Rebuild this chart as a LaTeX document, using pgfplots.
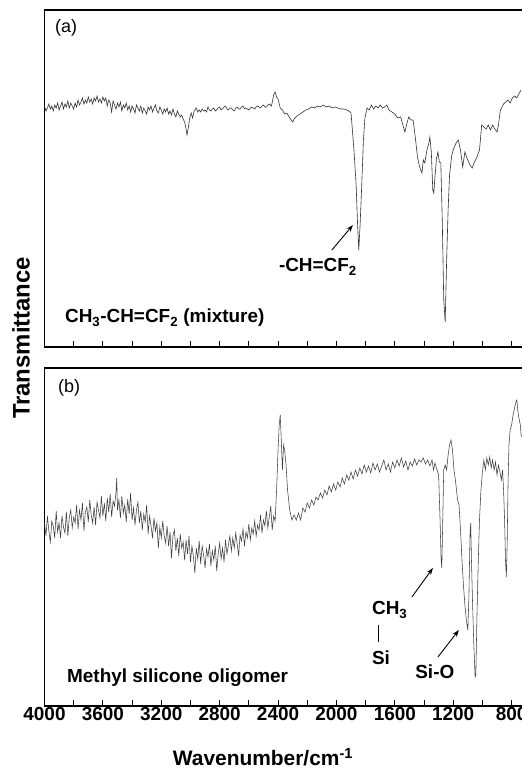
\documentclass[border=0pt]{standalone}
\usepackage{pgfplots}
\pgfplotsset{compat=1.18}
\usepackage{fontspec}
\setmainfont{Liberation Sans}
\usetikzlibrary{arrows.meta}
\tikzset{
  ann/.style={font=\bfseries\fontsize{19}{19}\selectfont, inner sep=0pt},
  arr/.style={-{Stealth[length=7bp,width=5bp]}, line width=0.9bp},
}
\pgfplotsset{
  spec/.style={
    scale only axis, width=489bp,
    xmin=650, xmax=4000, x dir=reverse,
    ytick=\empty,
    xtick={800,1200,...,4000},
    minor xtick={1000,1400,...,3800},
    tick align=inside,
    xtick pos=bottom,
    major tick length=6bp, minor tick length=6bp,
    tick style={black, line width=0.9bp},
    axis line style={line width=1.3bp},
    /pgf/number format/assume math mode=true,
    /pgf/number format/set thousands separator={},
    xticklabel style={font=\bfseries\fontsize{19}{19}\selectfont, inner sep=1bp},
  },
}
\begin{document}
\begin{tikzpicture}
\useasboundingbox (0bp,0bp) rectangle (522bp,773bp);
% ---------------- panel (a)
\begin{axis}[spec, height=337bp, ymin=0, ymax=337, at={(44.5bp,426bp)}, anchor=south west,
  xticklabels={},
  ylabel={Transmittance},
  ylabel style={at={(axis description cs:-0.048,0.027)}, anchor=center, font=\bfseries\fontsize{24}{24}\selectfont}]
\addplot[black!80, line width=0.6bp] coordinates {
(4000,241)(3990,236)(3980,239)(3970,243)(3960,238)(3950,241)(3940,236)(3930,242)(3920,239)(3910,244)
(3900,237)(3890,241)(3880,245)(3870,238)(3860,243)(3850,240)(3840,246)(3830,239)(3820,244)(3810,241)
(3800,238)(3790,244)(3780,240)(3770,247)(3760,242)(3750,245)(3740,249)(3730,243)(3720,247)(3710,244)
(3700,250)(3690,245)(3680,248)(3670,243)(3660,249)(3650,246)(3640,251)(3630,245)(3620,248)(3610,244)
(3600,250)(3590,246)(3580,249)(3570,241)(3560,247)(3550,244)(3540,235)(3530,246)(3520,242)(3510,238)
(3500,244)(3490,240)(3480,245)(3470,236)(3460,242)(3450,239)(3440,244)(3430,237)(3420,241)(3410,235)
(3400,241)(3390,238)(3380,234)(3370,242)(3360,239)(3350,236)(3340,241)(3330,234)(3320,239)(3310,236)
(3300,233)(3290,240)(3280,237)(3270,241)(3260,235)(3250,239)(3240,242)(3230,236)(3220,234)(3210,240)
(3200,237)(3190,233)(3180,238)(3170,235)(3160,239)(3150,233)(3140,236)(3130,232)(3120,238)(3110,233)
(3100,230)(3090,236)(3080,233)(3070,230)(3060,232)(3050,228)(3040,225)(3030,218)(3024,212)(3015,219)
(3005,229)(2995,234)(2985,229)(2975,236)(2960,239)(2950,235)(2940,237)(2930,235)(2920,238)(2910,236)
(2900,237)(2890,235)(2880,240)(2870,237)(2860,236)(2850,238)(2840,239)(2830,236)(2820,237)(2810,239)
(2800,240)(2790,237)(2780,238)(2770,240)(2760,241)(2750,238)(2740,237)(2730,239)(2720,239)(2710,237)
(2700,236)(2690,239)(2680,240)(2670,238)(2660,238)(2650,240)(2640,241)(2630,238)(2620,239)(2610,238)
(2600,237)(2590,239)(2580,240)(2570,239)(2560,238)(2550,240)(2540,241)(2530,240)(2520,239)(2510,241)
(2500,242)(2490,240)(2480,240)(2470,242)(2460,243)(2445,241)
(2430,252)(2420,255)(2410,250)(2400,248)(2385,239)(2370,237)(2355,233)(2340,234)(2320,229)(2300,225)
(2285,229)(2270,231)(2250,233)(2230,235)(2210,237)(2190,238)(2170,240)(2150,239)(2130,241)(2110,240)
(2090,242)(2070,240)(2050,241)(2030,239)(2010,240)(1990,239)(1970,238)(1950,238)(1930,237)(1915,236)
(1900,234)(1880,197)(1865,162)(1855,122)(1847,97)(1838,122)(1828,157)(1815,207)(1805,229)(1790,239)
(1775,237)(1760,242)(1745,238)(1730,241)(1715,239)(1700,242)(1685,239)(1670,240)(1655,242)(1640,237)
(1620,235)(1600,233)(1580,229)(1560,230)(1545,222)(1531,215)(1520,222)(1505,230)(1490,227)(1475,227)
(1460,210)(1445,190)(1430,180)(1414,174)(1405,187)(1395,184)(1380,197)(1365,205)(1360,210)(1350,195)
(1340,157)(1333,154)(1325,170)(1315,188)(1305,195)(1295,185)(1285,184)(1275,127)(1265,47)(1255,25)
(1245,87)(1235,137)(1225,172)(1210,192)(1195,199)(1180,204)(1165,207)(1150,197)(1135,180)(1120,195)
(1100,187)(1085,182)(1070,179)(1055,185)(1040,189)(1020,197)(1005,222)(990,220)(975,218)(960,222)
(945,217)(930,222)(915,218)(900,215)(890,222)(878,236)(866,240)(855,243)(840,245)(825,247)
(810,244)(795,249)(780,251)(765,249)(750,253)(743,255)(735,257)
};
\node[anchor=west, font=\fontsize{18}{18}\selectfont, inner sep=0pt] at (axis cs:3928,319) {(a)};
\node[ann] at (axis cs:2127,80) {-CH=CF\textsubscript{2}};
\draw[arr] (axis cs:2031,97) -- (axis cs:1887,122);
\node[ann, anchor=west] at (axis cs:3860,29) {CH\textsubscript{3}-CH=CF\textsubscript{2} (mixture)};
\end{axis}
% ---------------- panel (b)
\begin{axis}[spec, height=338bp, ymin=0, ymax=338, at={(44.5bp,67bp)}, anchor=south west,
  xlabel={Wavenumber/cm\textsuperscript{-1}},
  xlabel style={at={(axis description cs:0.4468,0)}, anchor=center, yshift=-51bp, font=\bfseries\fontsize{21}{21}\selectfont}]
\addplot[black!75, line width=0.55bp] coordinates {
(4000,183)(3990,170)(3980,190)(3970,175)(3960,164)(3950,185)(3940,180)(3930,168)(3920,195)(3910,174)
(3900,183)(3890,168)(3880,190)(3870,179)(3860,173)(3850,194)(3840,170)(3830,189)(3820,196)(3810,178)
(3800,189)(3790,183)(3780,201)(3770,177)(3760,196)(3750,186)(3740,203)(3730,175)(3720,194)(3710,199)
(3700,184)(3690,206)(3680,191)(3670,183)(3660,199)(3650,181)(3640,204)(3630,196)(3620,188)(3610,210)
(3600,190)(3590,203)(3580,185)(3570,208)(3560,194)(3550,212)(3540,189)(3530,205)(3520,200)(3510,214)
(3505,228)(3500,196)(3490,206)(3480,188)(3470,210)(3460,193)(3450,201)(3440,184)(3430,207)(3420,192)
(3410,213)(3400,186)(3390,198)(3380,181)(3370,196)(3360,204)(3350,183)(3340,195)(3330,176)(3320,192)
(3310,184)(3300,201)(3290,172)(3280,190)(3270,180)(3260,168)(3250,188)(3240,175)(3230,183)(3220,158)
(3210,179)(3200,168)(3190,185)(3180,170)(3170,163)(3160,180)(3150,160)(3140,174)(3130,148)(3120,170)
(3110,176)(3100,155)(3090,168)(3080,150)(3070,172)(3060,158)(3050,164)(3040,146)(3030,166)(3020,152)
(3010,170)(3000,144)(2990,160)(2980,150)(2970,133)(2960,158)(2950,147)(2940,165)(2930,142)(2920,160)
(2910,151)(2900,138)(2890,157)(2880,149)(2870,162)(2860,140)(2850,155)(2840,146)(2830,160)(2820,135)
(2810,152)(2800,163)(2790,147)(2780,158)(2770,144)(2760,166)(2750,152)(2740,161)(2730,170)(2720,155)
(2710,168)(2700,158)(2690,173)(2680,162)(2670,150)(2660,171)(2650,165)(2640,177)(2630,160)(2620,174)
(2610,168)(2600,182)(2590,166)(2580,178)(2570,172)(2560,185)(2550,170)(2540,181)(2530,176)(2520,191)
(2510,173)(2500,186)(2490,180)(2480,195)(2470,178)(2460,189)(2450,200)(2440,176)(2430,190)(2420,185)
(2410,216)(2400,256)(2392,281)
(2385,291)(2378,266)(2370,236)(2362,261)(2355,256)(2345,241)(2335,216)(2320,196)(2305,186)(2290,191)
(2275,186)(2260,193)(2245,186)(2230,198)(2215,194)(2200,203)(2185,198)(2170,206)(2155,201)(2140,209)
(2125,206)(2110,213)(2095,208)(2080,216)(2065,211)(2050,220)(2035,214)(2020,222)(2005,216)(1990,224)
(1975,219)(1960,228)(1945,222)(1930,231)(1915,226)(1900,234)(1885,227)(1870,236)(1855,230)(1840,238)
(1825,232)(1810,241)(1795,234)(1780,240)(1765,233)(1750,243)(1735,236)(1720,242)(1705,234)(1690,240)
(1675,246)(1660,236)(1645,242)(1630,234)(1615,244)(1600,238)(1585,246)(1570,240)(1555,248)(1540,239)
(1525,245)(1510,236)(1495,244)(1480,240)(1465,247)(1450,241)(1435,246)(1420,244)(1405,248)(1390,242)
(1375,246)(1360,240)(1345,246)(1335,236)(1325,243)(1315,238)(1300,231)(1290,186)(1283,146)(1278,138)
(1273,176)(1265,236)(1255,241)(1245,236)(1235,251)(1225,261)(1215,266)(1205,256)(1195,236)(1185,226)
(1170,206)(1160,201)(1150,176)(1140,146)(1130,121)(1120,101)(1110,86)(1100,76)(1093,106)(1085,171)
(1080,183)(1075,146)(1068,106)(1060,66)(1050,29)(1045,31)(1038,86)(1030,136)(1020,186)(1010,216)
(1000,234)(990,246)(980,236)(970,248)(960,241)(950,249)(940,238)(930,246)(920,236)(910,244)
(900,231)(890,241)(880,234)(870,226)(862,236)(855,216)(848,186)(842,146)(836,129)(830,166)
(824,226)(818,261)(810,276)(800,281)(790,291)(780,298)(770,304)(764,306)(758,296)(750,288)
(740,281)(735,271)(728,269)
};
\node[anchor=west, font=\fontsize{18}{18}\selectfont, inner sep=0pt] at (axis cs:3908,318) {(b)};
\node[ann, anchor=west] at (axis cs:3846,28) {Methyl silicone oligomer};
\node[ann, anchor=west] at (axis cs:1757,96) {CH\textsubscript{3}};
\draw[line width=1bp] (axis cs:1709,81) -- (axis cs:1709,64);
\node[ann, anchor=west] at (axis cs:1757,48) {Si};
\draw[arr] (axis cs:1483,109) -- (axis cs:1339,138);
\node[ann] at (axis cs:1326,34) {Si-O};
\draw[arr] (axis cs:1305,49) -- (axis cs:1161,76);
\end{axis}
\end{tikzpicture}
\end{document}
